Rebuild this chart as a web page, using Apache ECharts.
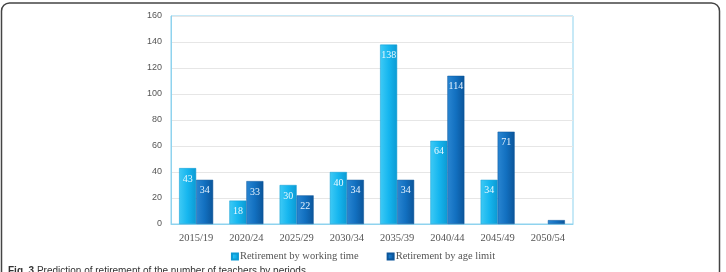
<!DOCTYPE html>
<html>
<head>
<meta charset="utf-8">
<script src="https://cdn.jsdelivr.net/npm/echarts@6/dist/echarts.min.js"></script>
<style>
  html, body { margin: 0; padding: 0; background: #fff; }
  #chart { width: 726px; height: 272px; }
</style>
</head>
<body>
<div id="chart"></div>
<script>
// periods on the x axis
const periods = ['2015/19', '2020/24', '2025/29', '2030/34', '2035/39', '2040/44', '2045/49', '2050/54'];
// retirements per period
const byWorkingTime = [43, 18, 30, 40, 138, 64, 34, null];
const byAgeLimit = [34, 33, 22, 34, 34, 114, 71, 3];
const yTicks = [0, 20, 40, 60, 80, 100, 120, 140, 160];

const serif = '"Liberation Serif", "DejaVu Serif", serif';

function barStyle(light, mid, dark) {
  return {
    color: new echarts.graphic.LinearGradient(0, 0, 1, 0, [
      { offset: 0, color: light },
      { offset: 0.5, color: mid },
      { offset: 1, color: dark }
    ]),
    borderColor: dark,
    borderWidth: 0.5
  };
}

const chart = echarts.init(document.getElementById('chart'));
chart.setOption({
  animation: false,
  grid: { left: 171, right: 153, top: 16, bottom: 48, show: true, borderColor: '#8fd3ee', borderWidth: 1 },
  xAxis: {
    type: 'category',
    data: periods,
    axisLine: { lineStyle: { color: '#8fd3ee' } },
    axisTick: { show: false },
    axisLabel: { color: '#555', fontFamily: serif, fontSize: 10.5, margin: 9 }
  },
  yAxis: {
    type: 'value',
    min: yTicks[0],
    max: yTicks[yTicks.length - 1],
    interval: 20,
    axisLine: { show: true, lineStyle: { color: '#8fd3ee' } },
    splitLine: { lineStyle: { color: '#e6e6e6' } },
    axisLabel: { color: '#555', fontSize: 9, margin: 9, fontFamily: 'Liberation Sans, sans-serif' }
  },
  legend: {
    top: 246,
    left: 'center',
    itemWidth: 6,
    itemHeight: 6,
    itemGap: 28,
    icon: 'rect',
    textStyle: { color: '#555', fontFamily: serif, fontSize: 10.5, padding: [0, 0, 0, -3] },
    data: ['Retirement by working time', 'Retirement by age limit']
  },
  series: [
    {
      name: 'Retirement by working time',
      type: 'bar',
      data: byWorkingTime,
      barWidth: 17,
      barGap: '0%',
      itemStyle: barStyle('#3fcaf5', '#16b6ef', '#0c9ad3'),
      label: {
        show: true, position: 'insideTop', distance: 6,
        color: '#e8f8ff', fontFamily: serif, fontSize: 10
      }
    },
    {
      name: 'Retirement by age limit',
      type: 'bar',
      data: byAgeLimit,
      barWidth: 17,
      itemStyle: barStyle('#2a86d2', '#1270c0', '#0b559a'),
      label: {
        show: true, position: 'insideTop', distance: 6,
        color: '#e8f4ff', fontFamily: serif, fontSize: 10,
        formatter: p => (p.value >= 10 ? p.value : '')
      }
    }
  ],
  graphic: [
    {
      type: 'rect',
      shape: { x: 1.5, y: 3, width: 718, height: 290, r: 8 },
      style: { fill: 'none', stroke: '#444', lineWidth: 1.5 },
      silent: true
    },
    {
      type: 'text',
      left: 8,
      top: 266,
      style: {
        text: '{b|Fig. 3} Prediction of retirement of the number of teachers by periods',
        fill: '#333',
        font: '10px "Liberation Sans", sans-serif',
        rich: { b: { fontWeight: 'bold', fill: '#333', fontSize: 10 } }
      }
    }
  ]
});
</script>
</body>
</html>
